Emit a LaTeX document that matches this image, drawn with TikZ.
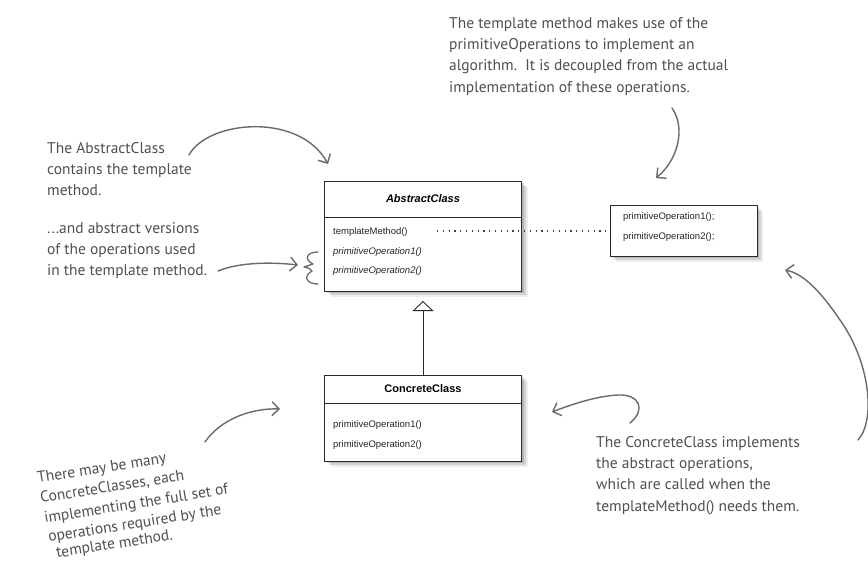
\documentclass[tikz,border=0pt]{standalone}
\usepackage{fontspec}
\setmainfont{Liberation Sans}
\newfontfamily\handfont{PT Sans}
\usetikzlibrary{arrows.meta,shadows}
\definecolor{notegray}{HTML}{505050}
\definecolor{arrowgray}{HTML}{6A6A6A}
\definecolor{umlline}{HTML}{2A2A2A}
\begin{document}
\begin{tikzpicture}[x=1pt,y=-1pt,
  classbox/.style={draw=umlline, line width=0.9pt, fill=white, inner sep=0pt,
     drop shadow={shadow xshift=2pt,shadow yshift=-2pt,opacity=0.14,fill=black},
     drop shadow={shadow xshift=4pt,shadow yshift=-4pt,opacity=0.11,fill=black},
     drop shadow={shadow xshift=6pt,shadow yshift=-6pt,opacity=0.07,fill=black}},
  member/.style={anchor=west, inner sep=0pt, font=\fontsize{9.5}{11}\selectfont, text=black!85},
  classtitle/.style={inner sep=0pt, font=\fontsize{11}{13}\selectfont\bfseries},
  note/.style={inner sep=0pt, anchor=north west, align=left, text=notegray,
     font=\handfont\fontsize{15.5}{21.3}\selectfont},
  noteline/.style={inner sep=0pt, anchor=base west, text=notegray, rotate=9,
     font=\handfont\fontsize{15.5}{21}\selectfont},
  hand/.style={draw=arrowgray, line width=1.4pt, line cap=round, line join=round,
     -{Straight Barb[length=7pt,width=14pt]}}
]
\useasboundingbox (0,0) rectangle (868,563);
\fill[white] (0,0) rectangle (868,563);

% ---- AbstractClass
\node[classbox, minimum width=197pt, minimum height=110pt] (abs) at (423,236) {};
\node[classtitle, font=\fontsize{11}{13}\selectfont\bfseries\itshape] (absname) at (423,199) {AbstractClass};
\coordinate (abssep) at (0,217);
\draw[umlline, line width=0.6pt] (abs.west |- abssep) -- (abs.east |- abssep);
\node[member] (tm) at (333,232) {templateMethod()};
\node[member, font=\fontsize{9.5}{11}\selectfont\itshape] (apo1) at (333,252) {primitiveOperation1()};
\node[member, font=\fontsize{9.5}{11}\selectfont\itshape] (apo2) at (333,271) {primitiveOperation2()};

% ---- operations box
\node[classbox, minimum width=147pt, minimum height=51pt] (ops) at (683.5,230.5) {};
\node[member] (opl1) at (623,217) {primitiveOperation1();};
\node[member] (opl2) at (623,237) {primitiveOperation2();};

\coordinate (dotstart) at (437,231);
\draw[black!75, line width=1.1pt, dash pattern=on 1.1pt off 4.7pt] (dotstart) -- (ops.west |- dotstart);

% ---- ConcreteClass
\node[classbox, minimum width=197pt, minimum height=86pt] (con) at (423,418) {};
\node[classtitle] (conname) at (423,389) {ConcreteClass};
\coordinate (consep) at (0,403);
\draw[umlline, line width=0.6pt] (con.west |- consep) -- (con.east |- consep);
\node[member] (cpo1) at (333,425) {primitiveOperation1()};
\node[member] (cpo2) at (333,445) {primitiveOperation2()};

% ---- inheritance
\coordinate (inhtip) at (423,301);
\draw[umlline, line width=0.9pt, -{Triangle[open, length=10pt, width=21pt, line width=0.9pt]}] (con.north) -- (inhtip);

% ---- notes
\node[note] (ntop) at (449,17) {The template method makes use of the\\
primitiveOperations to implement an\\
algorithm.\ \ It is decoupled from the actual\\
implementation of these operations.};

\node[note] (nabs) at (47,142) {The AbstractClass\\contains the template\\method.};

\node[note] (nver) at (47,222) {...and abstract versions\\of the operations used\\in the template method.};

\node[note] (ncon) at (596,436) {The ConcreteClass implements\\the abstract operations,\\which are called when the\\templateMethod() needs them.};

\node[noteline] (nm1) at (38,483) {There may be many};
\node[noteline] (nm2) at (41,503) {ConcreteClasses, each};
\node[noteline] (nm3) at (45,523) {implementing the full set of};
\node[noteline] (nm4) at (49,542) {operations required by the};
\node[noteline] (nm5) at (57,558) {template method.};

% ---- hand-drawn arrows
\coordinate (a1s) at (672,108);
\coordinate (a1e) at (656,178);
\draw[hand] (a1s) .. controls (686,128) and (678,160) .. (a1e);

\coordinate (a2s) at (189,155);
\coordinate (a2e) at (328,164);
\draw[hand] (a2s) .. controls (208,120) and (300,112) .. (a2e);

\coordinate (a3s) at (218,271);
\coordinate (a3e) at (298,265);
\draw[hand] (a3s) .. controls (240,262) and (272,262) .. (a3e);

\coordinate (a4s) at (205,442);
\coordinate (a4e) at (280,409);
\draw[hand] (a4s) .. controls (220,420) and (250,408) .. (a4e);

\coordinate (a5s) at (630,423);
\coordinate (a5m) at (618,395);
\coordinate (a5e) at (552,412);
\draw[hand] (a5s) .. controls (646,410) and (640,394) .. (a5m) .. controls (596,396) and (570,405) .. (a5e);

\coordinate (a6s) at (858,440);
\coordinate (a6m) at (840,320);
\coordinate (a6e) at (785,270);
\draw[hand] (a6s) .. controls (876,420) and (870,362) .. (a6m) .. controls (825,298) and (806,274) .. (a6e);

% ---- brace
\draw[arrowgray, line width=1.3pt, line cap=round, line join=round]
  (318,252) .. controls (306,252) and (304,260) .. (313,264)
  .. controls (309,265) .. (304,267) .. controls (309,268) .. (312,271)
  .. controls (303,276) and (306,284) .. (318,284);
\end{tikzpicture}
\end{document}
